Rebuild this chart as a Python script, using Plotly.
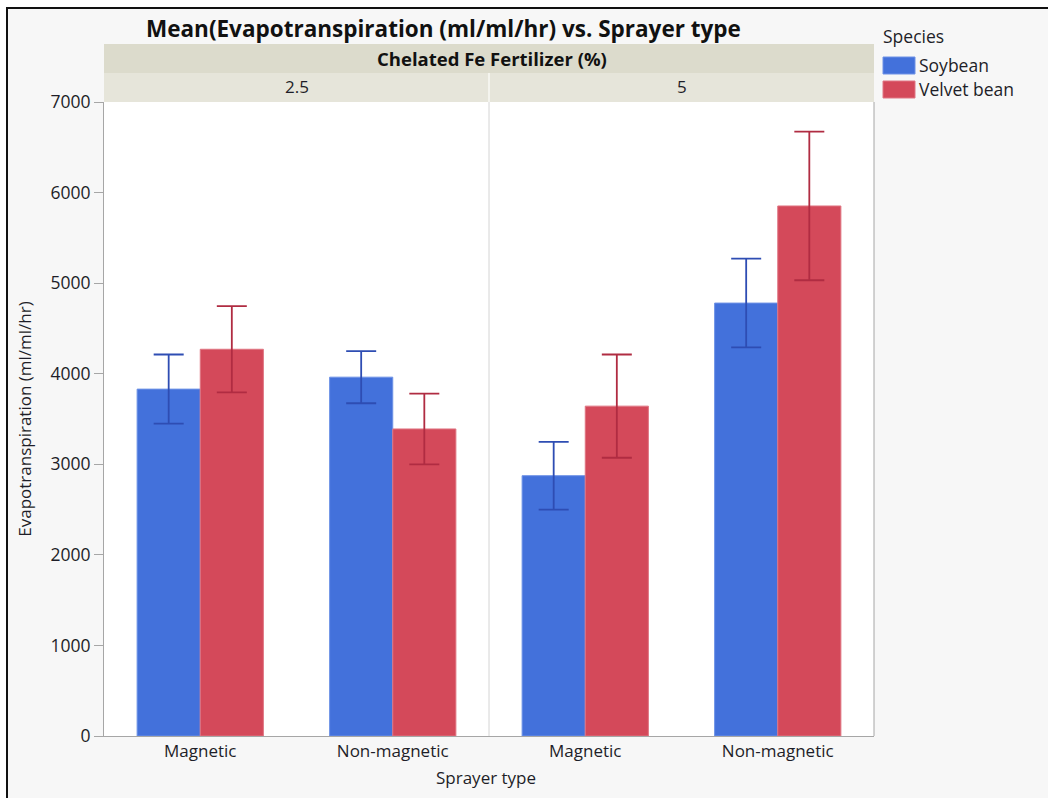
import plotly.graph_objects as go
from plotly.subplots import make_subplots

# Mean evapotranspiration by sprayer type, split by chelated Fe fertilizer level
sprayer_types = ["Magnetic", "Non-magnetic"]
fe_levels = ["2.5", "5"]
species = ["Soybean", "Velvet bean"]

soybean_mean_25 = [3830, 3962]
soybean_err_25 = [382, 288]
velvet_mean_25 = [4270, 3390]
velvet_err_25 = [476, 390]

soybean_mean_5 = [2874, 4780]
soybean_err_5 = [374, 490]
velvet_mean_5 = [3642, 5852]
velvet_err_5 = [570, 820]

y_ticks = [0, 1000, 2000, 3000, 4000, 5000, 6000, 7000]

means = {
    "Soybean": [soybean_mean_25, soybean_mean_5],
    "Velvet bean": [velvet_mean_25, velvet_mean_5],
}
errors = {
    "Soybean": [soybean_err_25, soybean_err_5],
    "Velvet bean": [velvet_err_25, velvet_err_5],
}
fill_colors = {"Soybean": "#4371DB", "Velvet bean": "#D4495A"}
edge_colors = {"Soybean": "#6E92E6", "Velvet bean": "#E07683"}
err_colors = {"Soybean": "#2E4DB3", "Velvet bean": "#B02C42"}

FONT = "Open Sans"
TEXT = "#1E1E28"
AXIS = "#A6A6A6"

fig = make_subplots(rows=1, cols=2, shared_yaxes=True, horizontal_spacing=0)

for col, level in enumerate(fe_levels, start=1):
    for sp in species:
        fig.add_trace(
            go.Bar(
                x=sprayer_types,
                y=means[sp][col - 1],
                name=sp,
                showlegend=False,
                marker=dict(color=fill_colors[sp],
                            line=dict(color=edge_colors[sp], width=1)),
                error_y=dict(type="data", array=errors[sp][col - 1],
                             color=err_colors[sp], thickness=1.8, width=15),
            ),
            row=1, col=col,
        )

fig.update_layout(
    width=1048, height=798,
    margin=dict(l=104, r=174, t=102, b=62),
    paper_bgcolor="#F7F7F7",
    plot_bgcolor="#FFFFFF",
    barmode="group",
    bargap=0.344,
    bargroupgap=0,
    font=dict(family=FONT, size=17, color=TEXT),
)

fig.update_xaxes(showline=True, linecolor=AXIS, linewidth=1, ticks="",
                 showgrid=False, tickfont=dict(size=17, color=TEXT))
fig.update_yaxes(range=[0, 7000], tickvals=y_ticks, showgrid=False,
                 zeroline=False, showline=True, linecolor=AXIS, linewidth=1)
fig.update_yaxes(ticks="outside", ticklen=9, tickcolor=AXIS,
                 tickfont=dict(size=17.5, color=TEXT),
                 title=dict(text="Evapotranspiration (ml/ml/hr)",
                            font=dict(size=17, color=TEXT), standoff=14),
                 row=1, col=1)
fig.update_yaxes(showline=False, ticks="", row=1, col=2)


def py(pix):
    # convert a pixel row to paper y
    return (736 - pix) / 634


def px(pix):
    # convert a pixel column to paper x
    return (pix - 104) / 770


shapes = [
    # facet header strips
    dict(type="rect", xref="paper", yref="paper", x0=0, x1=1,
         y0=py(73), y1=py(44), fillcolor="#DCDBCC", line=dict(width=0)),
    dict(type="rect", xref="paper", yref="paper", x0=0, x1=1,
         y0=1.0, y1=py(73), fillcolor="#E6E5DA", line=dict(width=0)),
    dict(type="line", xref="paper", yref="paper", x0=0.5, x1=0.5,
         y0=1.0, y1=py(73), line=dict(color="#F4F4EE", width=2)),
    # panel divider and right edge of the plot frame
    dict(type="line", xref="paper", yref="paper", x0=0.5, x1=0.5,
         y0=0, y1=1, line=dict(color="#D4D4D4", width=1)),
    dict(type="line", xref="paper", yref="paper", x0=1, x1=1,
         y0=0, y1=1, line=dict(color=AXIS, width=1)),
    # white margin outside the dark report frame
    dict(type="rect", xref="paper", yref="paper", x0=px(-20), x1=px(1070),
         y0=py(8), y1=py(-20), fillcolor="#FFFFFF", line=dict(width=0)),
    dict(type="rect", xref="paper", yref="paper", x0=px(-20), x1=px(7),
         y0=py(820), y1=py(-20), fillcolor="#FFFFFF", line=dict(width=0)),
    # dark report frame
    dict(type="rect", xref="paper", yref="paper", x0=px(7), x1=px(1070),
         y0=py(820), y1=py(8), line=dict(color="#111111", width=2)),
]

# legend swatches
swatch_rows = [(57, 74), (81, 98)]
for sp, (top, bottom) in zip(species, swatch_rows):
    shapes.append(dict(type="rect", xref="paper", yref="paper",
                       x0=px(883), x1=px(915), y0=py(bottom), y1=py(top),
                       fillcolor=fill_colors[sp],
                       line=dict(color=edge_colors[sp], width=1)))

annotations = [
    dict(text="<b>Mean(Evapotranspiration (ml/ml/hr) vs. Sprayer type</b>",
         x=px(443), y=py(28), font=dict(size=22.5, color="#111111")),
    dict(text="<b>Chelated Fe Fertilizer (%)</b>",
         x=px(492), y=py(58.5), font=dict(size=18.5, color="#111111")),
    dict(text=fe_levels[0], x=0.25, y=py(87), font=dict(size=17, color=TEXT)),
    dict(text=fe_levels[1], x=0.75, y=py(87), font=dict(size=17, color=TEXT)),
    dict(text="Sprayer type", x=px(486), y=py(777),
         font=dict(size=17, color=TEXT)),
    dict(text="Species", x=px(881), y=py(36), xanchor="left",
         font=dict(size=17.5, color=TEXT)),
]
for sp, (top, bottom) in zip(species, swatch_rows):
    annotations.append(dict(text=sp, x=px(917), y=py((top + bottom) / 2),
                            xanchor="left", font=dict(size=17.5, color=TEXT)))

for a in annotations:
    a.update(xref="paper", yref="paper", showarrow=False)
    a.setdefault("xanchor", "center")
    a.setdefault("yanchor", "middle")

fig.update_layout(shapes=shapes, annotations=annotations)

fig.write_html("out.html")
